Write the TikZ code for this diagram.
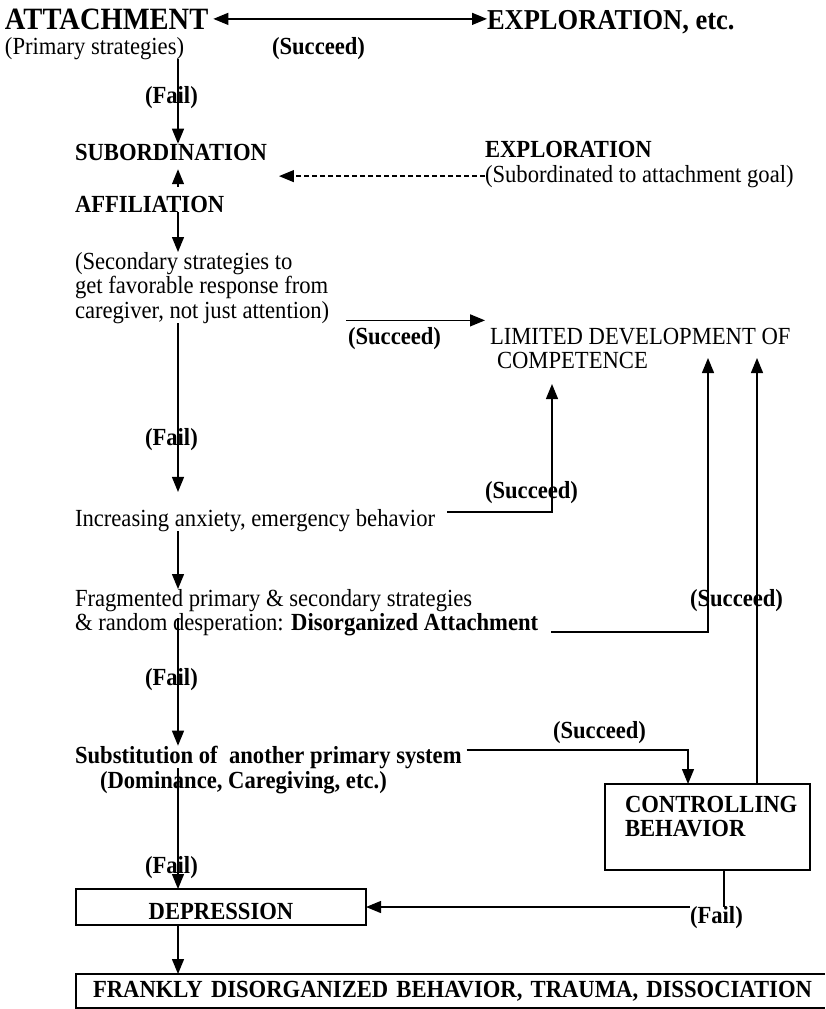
\documentclass[tikz,border=0pt]{standalone}
\usepackage{fontspec}
\setmainfont{Liberation Serif}[FakeStretch=0.92]
\usetikzlibrary{arrows.meta,calc}
\begin{document}
\begin{tikzpicture}[x=1pt,y=-1pt,
  every node/.style={inner sep=0pt, outer sep=0pt},
  txt/.style={font=\fontsize{24.6}{24.5}\selectfont, anchor=base west},
  btxt/.style={anchor=base west, font=\fontsize{24.6}{24.5}\selectfont\bfseries},
  big/.style={anchor=base west, font=\fontsize{31}{33}\selectfont\bfseries},
  tip/.style={Triangle[length=15pt,width=12pt]},
  flow/.style={line width=1.3pt, -{Triangle[length=15pt,width=12pt]}},
  plain/.style={line width=1.3pt},
  frame/.style={draw, line width=1.3pt},
]
\useasboundingbox (0,0) rectangle (825,1009);

% ---- top row
\node[big] (att) at (5,29) {ATTACHMENT};
\node[big, font=\fontsize{28.8}{30}\selectfont\bfseries] (expl) at (487,29) {EXPLORATION, etc.};
\node[txt] (prim) at (5,54) {(Primary strategies)};
\node[btxt] (succA) at (272,54) {(Succeed)};
\node[btxt] (failA) at (145,103) {(Fail)};

% ---- subordination / affiliation
\node[btxt] (sub) at (75,160) {SUBORDINATION};
\node[btxt] (explB) at (485,157) {EXPLORATION};
\node[txt] (subd) at (485,182) {(Subordinated to attachment goal)};
\node[btxt] (aff) at (75,212) {AFFILIATION};
\node[txt, anchor=north west, align=left] (sec) at (75,252)
  {(Secondary strategies to\\get favorable response from\\caregiver, not just attention)};
\node[btxt] (succB) at (348,344) {(Succeed)};
\node[txt, anchor=north west, align=left] (lim) at (490,328)
  {LIMITED DEVELOPMENT OF\\\hspace*{7pt}COMPETENCE};

% ---- escalation chain
\node[btxt] (failB) at (145,445) {(Fail)};
\node[txt] (inc) at (75,526) {Increasing anxiety, emergency behavior};
\node[btxt] (succC) at (485,498) {(Succeed)};
\node[txt, anchor=north west, align=left] (frag) at (75,589)
  {Fragmented primary \& secondary strategies\\\& random desperation: \textbf{Disorganized Attachment}};
\node[btxt] (succD) at (690,606) {(Succeed)};
\node[btxt] (failC) at (145,685) {(Fail)};
\node[btxt] (succE) at (553,738) {(Succeed)};
\node[btxt] (subst) at (75,763) {Substitution of\ \ another primary system};
\node[btxt] (dom) at (100,788) {(Dominance, Caregiving, etc.)};

% ---- controlling behaviour box
\node[frame, minimum width=205pt, minimum height=86pt, anchor=north west] (ctrl) at (605,784) {};
\node[btxt, anchor=north west, align=left] (ctrltxt) at ($(ctrl.north west)+(20,12)$) {CONTROLLING\\BEHAVIOR};

% ---- bottom
\node[btxt] (failD) at (145,873) {(Fail)};
\node[frame, anchor=north west, font=\fontsize{24.6}{24.5}\selectfont\bfseries,
      minimum width=290pt, minimum height=36pt, text height=26pt] (depr) at (76,889) {DEPRESSION};
\node[btxt] (failE) at (690,923) {(Fail)};
\node[anchor=north west, font=\fontsize{24.6}{24.5}\selectfont\bfseries,
      text width=749pt, align=left, minimum height=34pt] (frank) at (76,974)
  {\hspace*{17pt}FRANKLY DISORGANIZED BEHAVIOR, TRAUMA, DISSOCIATION};
\draw[line width=1.3pt] (frank.north east) -- (frank.north west) -- (frank.south west) -- (frank.south east);

% ---- main vertical chain
\coordinate (col) at (178,0);
\draw[flow] (prim.south -| col) -- (sub.north -| col);
\draw[flow, shorten <=9pt, shorten >=9pt] (aff.north -| col) -- (sub.south -| col);
\draw[flow] (aff.south -| col) -- (sec.north -| col);
\draw[flow, shorten >=17pt] (sec.south -| col) -- (inc.north -| col);
\draw[flow] (inc.south -| col) -- (frag.north -| col);
\draw[flow] ($(frag.south -| col)+(0,-18)$) -- (subst.north -| col);
\draw[flow] (subst.south -| col) -- (depr.north -| col);
\draw[flow] (depr.south -| col) -- (frank.north -| col);

% ---- attachment <-> exploration
\draw[line width=1.3pt, {Triangle[length=15pt,width=12pt]}-{Triangle[length=15pt,width=12pt]}]
  ($(att.east)+(5,0)$) -- (att.east -| expl.west);

% ---- exploration subordinated
\coordinate (dtip) at ($(sub.east)+(12,0)$);
\draw[flow, dashed, dash pattern=on 5pt off 3pt] (subd.west) -- (subd.west -| dtip);

% ---- successes to limited development
\coordinate (sB) at ($(sec.south east)+(17,-3)$);
\draw[flow, shorten >=5pt] (sB) -- (sB -| lim.west);
\coordinate (iA) at ($(inc.base east)+(12,-14)$);
\coordinate (limA) at ($(lim.south west)+(62,15)$);
\draw[flow] (iA) -| (limA);
\coordinate (fA) at ($(frag.south east)+(13,-4)$);
\coordinate (limB) at ($(lim.north west)+(218,30)$);
\draw[flow] (fA) -| (limB);
\coordinate (sC) at ($(subst.base east)+(5,-13)$);
\draw[flow] (sC) -| ($(ctrl.north west)+(83,0)$);
\coordinate (cU) at ($(ctrl.north west)+(152,0)$);
\draw[flow] (cU) -- (cU |- limB);

% ---- controlling fails into depression
\coordinate (cD) at ($(ctrl.south west)+(119,0)$);
\draw[plain] (cD) -- (cD |- depr.east);
\draw[flow] (failE.west |- depr.east) -- (depr.east);
\end{tikzpicture}
\end{document}
